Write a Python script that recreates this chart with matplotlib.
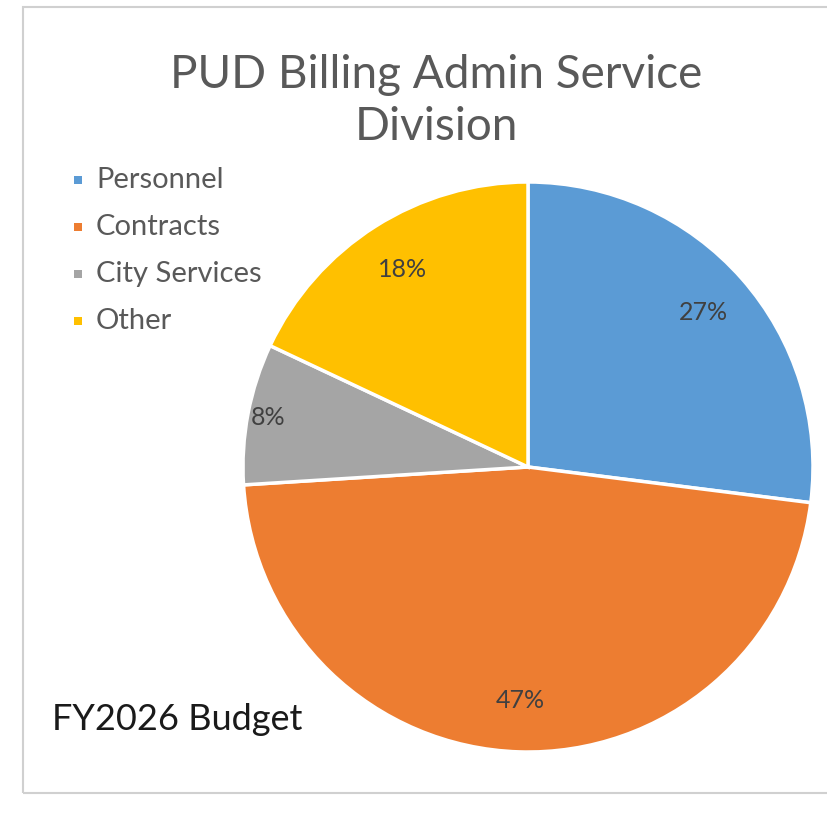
import numpy as np
import matplotlib
matplotlib.use("Agg")
import matplotlib.pyplot as plt
from matplotlib.patches import Rectangle

plt.rcParams['font.family'] = ['Lato', 'DejaVu Sans']

# Data
categories = ['Personnel', 'Contracts', 'City Services', 'Other']
shares = [27, 47, 8, 18]
colors = ['#5B9BD5', '#ED7D31', '#A5A5A5', '#FFC000']
title = 'PUD Billing Admin Service\nDivision'
note = 'FY2026 Budget'

W, H = 828, 825
fig = plt.figure(figsize=(W / 100, H / 100), dpi=100)
ax = fig.add_axes([0, 0, 1, 1])

cx, cy, r = 528, 358, 285
wedges, texts, autotexts = ax.pie(
    shares, colors=colors, startangle=90, counterclock=False,
    center=(cx, cy), radius=r, autopct='%d%%', pctdistance=0.82,
    wedgeprops=dict(edgecolor='white', linewidth=2.5),
    textprops=dict(fontsize=18, color='#404040'))

# pie() resets the limits, so set the pixel frame afterwards
ax.set_xlim(0, W)
ax.set_ylim(0, H)
ax.set_aspect('equal')
ax.axis('off')

# outer chart frame
ax.add_patch(Rectangle((23, 32), 820, 786, fill=False, edgecolor='#D0D0D0', lw=1.5))

# small slice label sits further out
w = wedges[2]
mid = np.deg2rad((w.theta1 + w.theta2) / 2)
autotexts[2].set_position((cx + 0.93 * r * np.cos(mid), cy + 0.93 * r * np.sin(mid)))

ax.text(436, 724, title, ha='center', va='center', fontsize=33,
        color='#595959', linespacing=1.3)

# legend
for i, (name, col) in enumerate(zip(categories, colors)):
    y = H - 180 - i * 47
    ax.add_patch(Rectangle((74, y - 4), 8, 8, facecolor=col, edgecolor='none'))
    ax.text(96, y, name, ha='left', va='center', fontsize=21, color='#595959')

ax.text(52, 105, note, ha='left', va='center', fontsize=26, color='#1a1a1a')

fig.savefig('out.png', dpi=100, facecolor='white')
